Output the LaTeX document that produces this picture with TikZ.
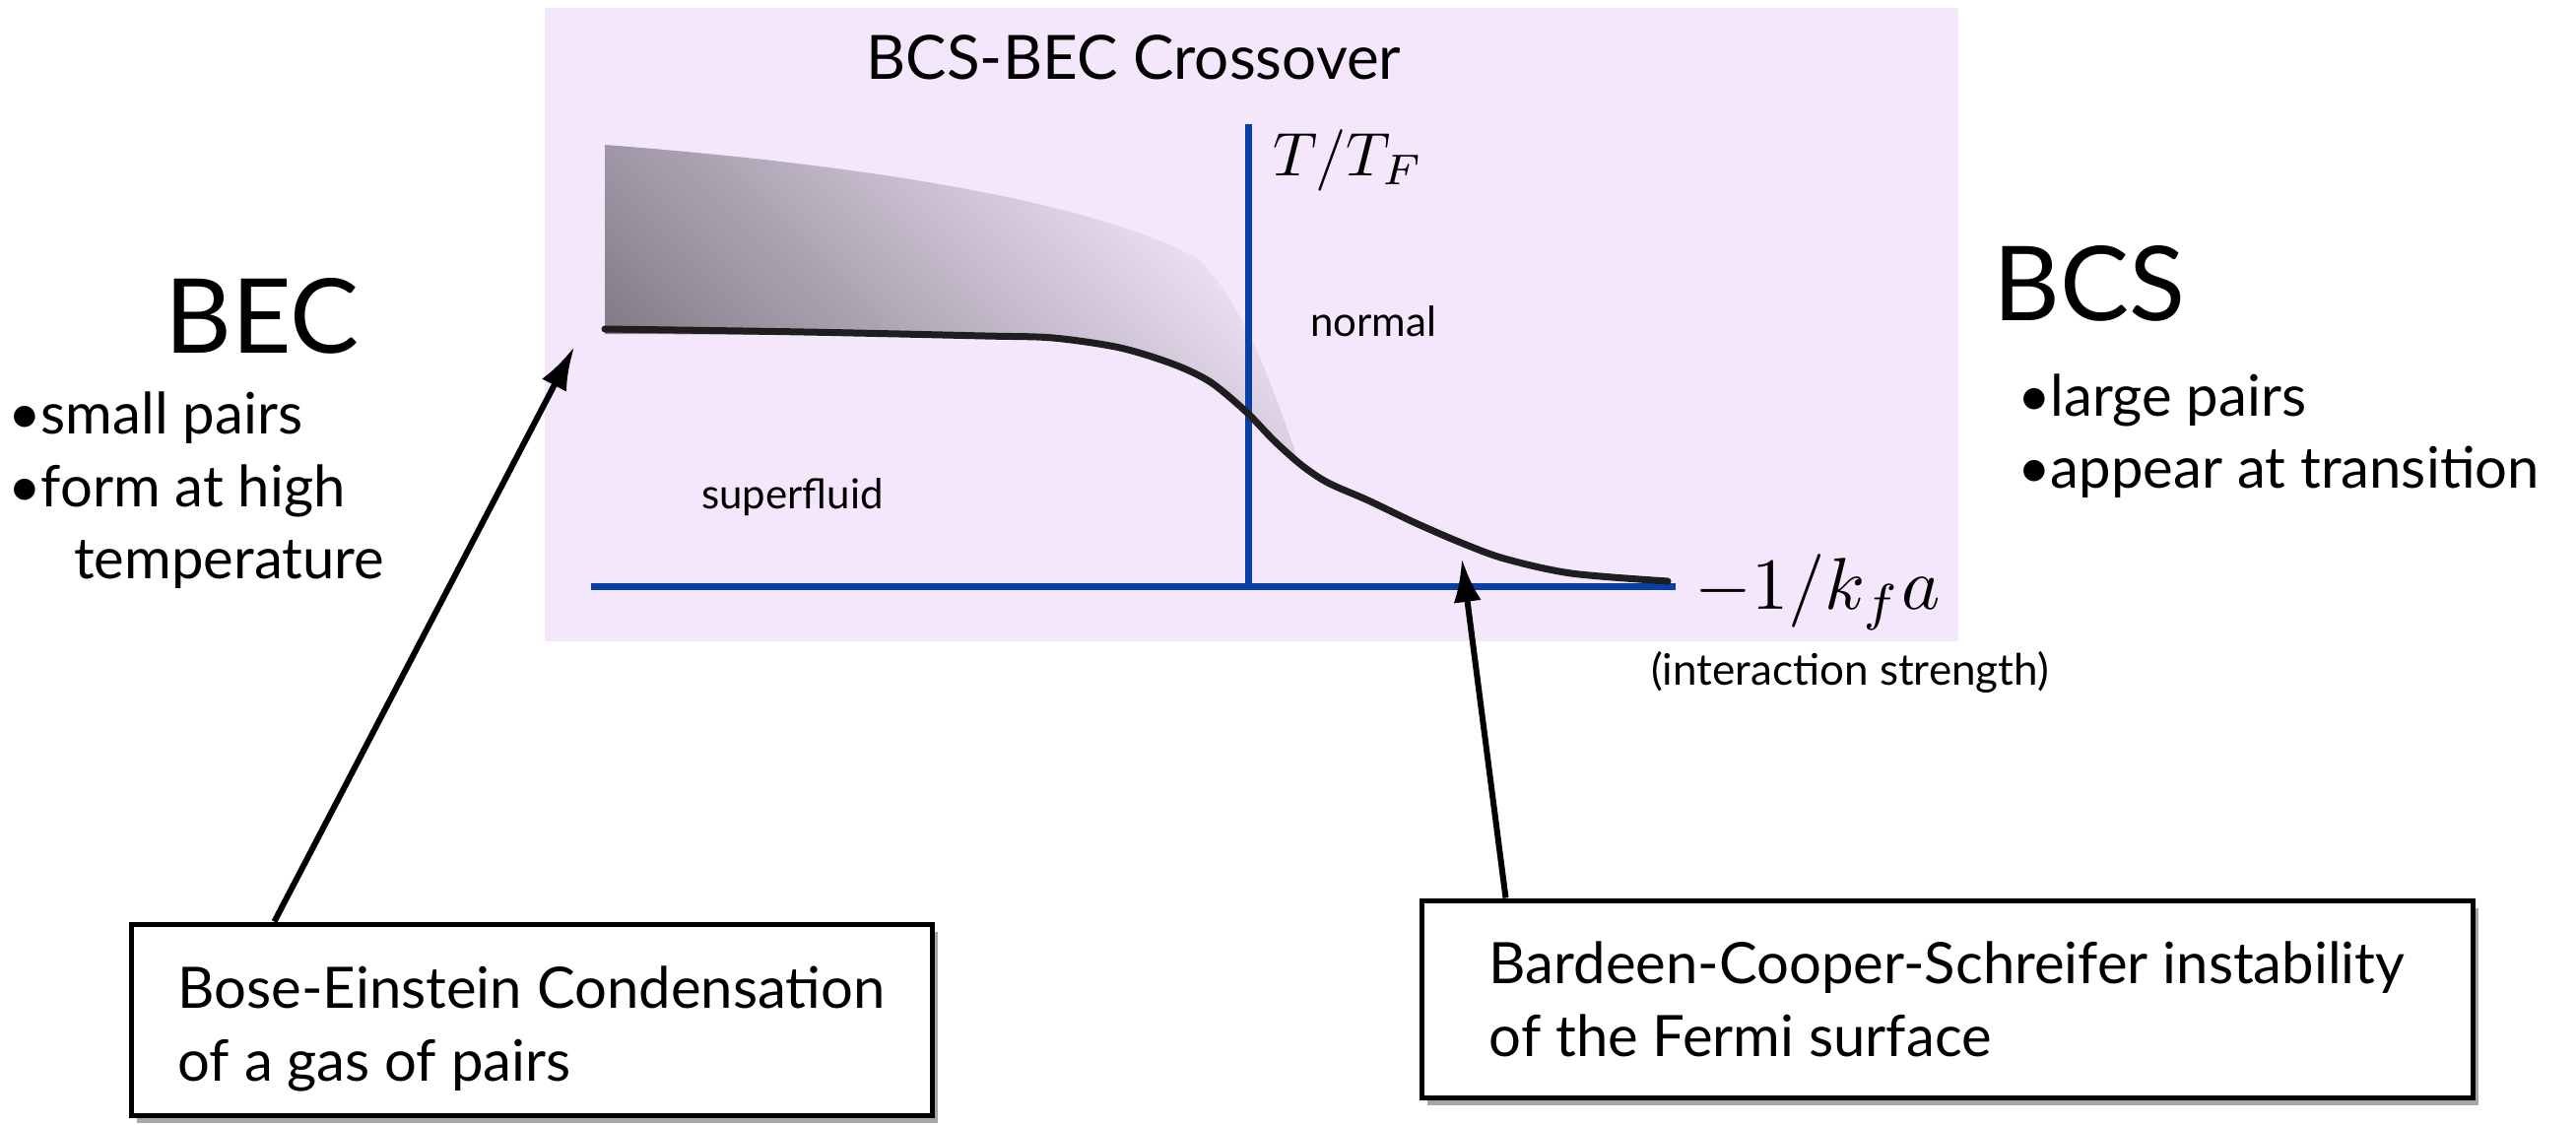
\documentclass[tikz,border=0pt]{standalone}
\usepackage[no-math]{fontspec}
\setmainfont{Lato}
\usetikzlibrary{arrows.meta,shadows}
\definecolor{lav}{RGB}{244,231,251}
\definecolor{axisblue}{RGB}{8,64,168}
\definecolor{shadedark}{RGB}{132,126,138}
\definecolor{curvecol}{RGB}{30,30,30}
\begin{document}
\begin{tikzpicture}[x=1pt,y=-1pt,
  lbl/.style={inner sep=0pt, anchor=base west},
  bigf/.style={font=\fontsize{105}{110}\selectfont},
  bulf/.style={font=\fontsize{58}{62}\selectfont},
  smallf/.style={font=\fontsize{42}{46}\selectfont},
  axisline/.style={draw=axisblue, line width=7pt},
  arr/.style={line width=6pt, -{Latex[length=44pt,width=28pt]}},
  callout/.style={draw=black, line width=5pt, fill=white, align=left,
    font=\fontsize{58}{74}\selectfont, inner sep=0pt,
    drop shadow={shadow xshift=6pt, shadow yshift=-8pt, fill=black, opacity=0.35}}
]
\useasboundingbox (0,0) rectangle (2615,1141);
% lavender panel
\fill[lav] (553,8) rectangle (1988,651);
% shaded region
\shade[top color=shadedark, middle color=shadedark!30!lav, bottom color=lav, shading angle=135]
  (614,147) .. controls (850,165) and (1100,200) .. (1215,262)
  .. controls (1262,305) and (1295,400) .. (1318,468)
  -- plot[smooth, tension=0.5] coordinates {(1318,468) (1293,447) (1265,418) (1229,388) (1192,370) (1137,353) (1069,345) (1000,343) (817,340) (614,339)}
  -- cycle;
% axes
\draw[axisline] (600,595) -- (1701,595);
\draw[axisline] (1267,126) -- (1267,595);
% transition curve
\draw[curvecol, line width=7pt, line cap=round]
  plot[smooth, tension=0.5] coordinates {(614,334) (817,337) (1000,341) (1069,343) (1137,353) (1192,370) (1229,388) (1265,418) (1293,447) (1321,472) (1348,490) (1389,508) (1435,530) (1481,550) (1527,567) (1595,582) (1693,590)};
% labels
\node[inner sep=0pt, anchor=base, font=\fontsize{62}{66}\selectfont] (title) at (1151,80) {BCS-BEC Crossover};
\node[lbl] (ttf) at (1292,178) {\scalebox{6.25}{$T/T_F$}};
\node[lbl] (kfa) at (1720,618) {\scalebox{7.45}{$-1/k_fa$}};
\node[lbl, smallf] (normal) at (1330,341) {normal};
\node[lbl, smallf] (superfluid) at (712,516) {superfluid};
\node[lbl, font=\fontsize{44}{48}\selectfont] (inter) at (1676,695) {(interaction strength)};
\node[lbl, bigf] (bec) at (167,358) {BEC};
\node[lbl, bulf] (bec1) at (8,440) {•small pairs};
\node[lbl, bulf] (bec2) at (8,514) {•form at high};
\node[lbl, bulf] (bec3) at (75,587) {temperature};
\node[lbl, bigf] (bcs) at (2023,325) {BCS};
\node[lbl, bulf] (bcs1) at (2048,422) {•large pairs};
\node[lbl, bulf] (bcs2) at (2048,495) {•appear at transition};
% callout boxes
\node[callout, minimum width=813pt, minimum height=194pt] (box1) at (539.5,1035)
  {\rule{0pt}{62pt}Bose-Einstein Condensation\\of a gas of pairs};
\node[callout, minimum width=1067pt, minimum height=200pt] (box2) at (1976.5,1014)
  {Bardeen-Cooper-Schreifer instability\\of the Fermi surface};
% arrow targets
\coordinate (becpt) at (583,352);
\coordinate (bcspt) at (1484,567);
\draw[arr] ([xshift=148pt]box1.north west) -- (becpt);
\draw[arr] ([xshift=88pt]box2.north west) -- (bcspt);
\end{tikzpicture}
\end{document}
